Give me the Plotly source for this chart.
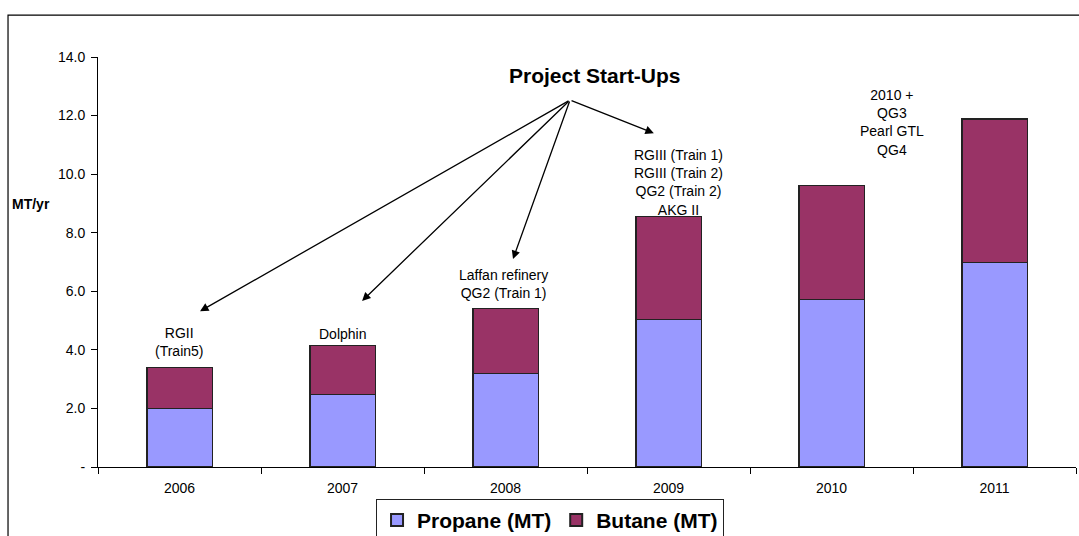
import plotly.graph_objects as go

years = ["2006", "2007", "2008", "2009", "2010", "2011"]
propane = [2.0, 2.48, 3.18, 5.05, 5.73, 6.98]
butane_total = [3.4, 4.16, 5.42, 8.55, 9.62, 11.88]
butane = [round(t - p, 2) for t, p in zip(butane_total, propane)]
ytick_vals = [0, 2, 4, 6, 8, 10, 12, 14]
ytick_text = ["-", "2.0", "4.0", "6.0", "8.0", "10.0", "12.0", "14.0"]

FONT = "Arial, 'Liberation Sans', sans-serif"

fig = go.Figure()
fig.add_trace(go.Bar(x=years, y=propane, name="Propane (MT)",
                     marker=dict(color="#9999FF", line=dict(color="#222222", width=1.2)),
                     width=0.4))
fig.add_trace(go.Bar(x=years, y=butane, name="Butane (MT)",
                     marker=dict(color="#993366", line=dict(color="#222222", width=1.2)),
                     width=0.4))

# text labels above bars (x index, y centre, text)
labels = [
    (0.0, 4.28, "RGII<br>(Train5)"),
    (1.0, 4.55, "Dolphin"),
    (1.985, 6.25, "Laffan refinery<br>QG2 (Train 1)"),
    (3.06, 9.71, "RGIII (Train 1)<br>RGIII (Train 2)<br>QG2 (Train 2)<br>AKG II"),
    (4.37, 11.76, "2010 +<br>QG3<br>Pearl GTL<br>QG4"),
]
annotations = []
for x, y, t in labels:
    annotations.append(dict(x=x, y=y, xref="x", yref="y", text=t, showarrow=False,
                            yanchor="middle", font=dict(size=14, color="black", family=FONT)))

annotations.append(dict(x=2.55, y=13.38, xref="x", yref="y", text="<b>Project Start-Ups</b>",
                        showarrow=False, yanchor="middle",
                        font=dict(size=21, color="black", family=FONT)))

tail = (2.396, 12.53)
heads = [(0.126, 5.32), (1.12, 5.67), (2.046, 7.1), (2.91, 11.4)]
for hx, hy in heads:
    annotations.append(dict(x=hx, y=hy, xref="x", yref="y", ax=tail[0], ay=tail[1],
                            axref="x", ayref="y", text="", showarrow=True,
                            arrowhead=2, arrowsize=1.3, arrowwidth=1.3, arrowcolor="black"))

annotations.append(dict(x=-0.069, y=0.641, xref="paper", yref="paper", text="<b>MT/yr</b>",
                        showarrow=False, xanchor="center", yanchor="middle",
                        font=dict(size=14, color="black", family=FONT)))

fig.update_layout(
    width=1079, height=536,
    margin=dict(l=98, r=3, t=57, b=69, autoexpand=False),
    paper_bgcolor="white", plot_bgcolor="white",
    barmode="stack",
    font=dict(family=FONT, color="black"),
    showlegend=True,
    legend=dict(orientation="h", x=0.462, xanchor="center", y=-0.077, yanchor="top",
                bordercolor="#222222", borderwidth=1.2, bgcolor="white",
                font=dict(size=21, family=FONT, color="black", weight="bold"),
                itemsizing="constant", traceorder="normal", itemwidth=30),
    xaxis=dict(type="category", showline=True, linecolor="black", linewidth=1,
               ticks="outside", tickson="boundaries", ticklen=6, tickcolor="black",
               ticklabelstandoff=8,
               tickfont=dict(size=14, family=FONT), showgrid=False, range=[-0.5, 5.5]),
    yaxis=dict(range=[0, 14], tickvals=ytick_vals, ticktext=ytick_text,
               showline=True, linecolor="black", linewidth=1, ticks="outside",
               ticklen=6, tickcolor="black", showgrid=False, zeroline=False,
               ticklabelstandoff=3,
               tickfont=dict(size=14, family=FONT)),
    annotations=annotations,
    shapes=[dict(type="rect", xref="paper", yref="paper", x0=-0.092, x1=1.2,
                 y0=-0.5, y1=1.102, line=dict(color="black", width=1.2),
                 fillcolor="rgba(0,0,0,0)", layer="below")],
)

fig.write_html("out.html")
